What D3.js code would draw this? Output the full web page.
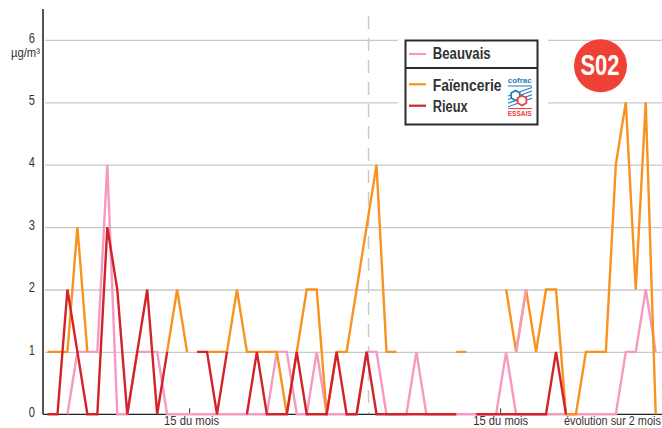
<!DOCTYPE html>
<html>
<head>
<meta charset="utf-8">
<script src="https://cdn.jsdelivr.net/npm/d3@7"></script>
<style>
html,body{margin:0;padding:0;background:#fff}
svg{display:block}
text{font-family:"Liberation Sans",sans-serif;fill:#333}
</style>
</head>
<body>
<div id="chart"></div>
<script>
const _ = null;
const yTickValues = [0, 1, 2, 3, 4, 5, 6];
const unitLabel = "µg/m³";
const xTickLabels = [{index: 14.2, label: "15 du mois", dx: 2.5}, {index: 45.4, label: "15 du mois", dx: 0.5}];
const footLabel = "évolution sur 2 mois";
const badgeLabel = "S02";

const beauvais = [_,_,0,1,1,1,4,0,0,1,1,1,0,0,0,0,0,0,0,0,0,0,0,1,1,0,0,1,0,0,0,0,1,1,0,0,0,1,0,0,0,0,0,0,0,0,1,0,0,0,0,0,0,0,0,0,0,0,1,1,2,1];
const faiencerie = [1,1,1,3,1,_,_,_,_,_,_,_,1,2,1,_,1,1,1,2,1,1,1,1,0,1,2,2,0,1,1,2,3,4,1,1,_,_,_,_,_,1,1,_,_,_,2,1,2,1,2,2,0,0,1,1,1,4,5,2,5,0];
const rieux = [0,0,2,1,0,0,3,2,0,1,2,0,1,_,_,1,1,0,1,_,0,1,0,0,0,1,0,0,0,1,0,0,1,0,0,0,0,0,0,0,0,0,_,0,0,0,0,0,0,0,0,1,0,_,_,_,_,_,_,_,_,_];
const beauvaisReprise = [_,_,_,_,_,_,_,_,_,_,_,_,_,_,_,_,_,_,_,_,_,_,_,_,_,_,_,_,_,_,_,_,_,_,_,_,_,_,_,_,_,_,_,_,_,_,_,1,2,_,_,_,_,_,_,_,_,_,_,_,_,_];

const colors = {beauvais: "#f59ac1", faiencerie: "#f8931f", rieux: "#d2232a"};
const W = 662, H = 428;
const svg = d3.select("#chart").append("svg").attr("width", W).attr("height", H);
// squeezes a text horizontally to the condensed width of the reference, keeping its anchor point in place
const narrow = (sel, w) => sel.each(function () {
  const t = d3.select(this), r = w / this.getComputedTextLength(), ax = +t.attr("x") || 0;
  t.attr("transform", `translate(${ax},0) scale(${r},1) translate(${-ax},0)`);
});

const x = d3.scaleLinear().domain([0, 61]).range([47.5, 655.7]);
const y = d3.scaleLinear().domain([0, 6]).range([414.3, 39.9]);

// grid
const grid = svg.append("g").attr("transform", "translate(45,0)")
  .call(d3.axisRight(y).tickValues(yTickValues.slice(1)).tickSize(617).tickFormat(""));
grid.select(".domain").remove();
grid.selectAll("line").attr("stroke", "#c9c9c9").attr("stroke-width", 1.3);

// dashed mid line
svg.append("line").attr("x1", x(32.2)).attr("x2", x(32.2)).attr("y1", 16).attr("y2", y(0))
  .attr("stroke", "#c9c9c9").attr("stroke-width", 1.5).attr("stroke-dasharray", "13 9");

// baseline with ticks
const xAxis = svg.append("g").attr("transform", `translate(0,${y(0)})`)
  .call(d3.axisTop(x).tickValues(xTickLabels.map(d => d.index)).tickSize(6).tickSizeOuter(0).tickFormat(""));
xAxis.select(".domain").remove();
xAxis.selectAll("line").attr("stroke", "#333").attr("stroke-width", 1);
svg.append("line").attr("x1", 43).attr("x2", 662).attr("y1", y(0)).attr("y2", y(0))
  .attr("stroke", "#222").attr("stroke-width", 1.3);

// y axis
const yAxis = svg.append("g").attr("transform", "translate(43,0)")
  .call(d3.axisLeft(y).tickValues(yTickValues).tickSize(0).tickPadding(8).tickFormat(d3.format("d")));
yAxis.select(".domain").remove();
yAxis.selectAll("text").attr("font-size", 14).style("font-family", '"Liberation Sans"').attr("dy", "0.15em").attr("fill", "#333")
  .call(narrow, 6.2);
svg.append("line").attr("x1", 43).attr("x2", 43).attr("y1", 9).attr("y2", y(0))
  .attr("stroke", "#555").attr("stroke-width", 2);
svg.append("text").attr("x", 11).attr("y", 57).attr("font-size", 13).text(unitLabel).call(narrow, 29);

// labels
xTickLabels.forEach(d => {
  svg.append("text").attr("x", x(d.index) + d.dx).attr("y", 425.5).attr("text-anchor", "middle")
    .attr("font-size", 12).text(d.label).call(narrow, 55);
});
svg.append("text").attr("x", 564).attr("y", 425.5).attr("font-size", 12).text(footLabel).call(narrow, 97);

// series
const line = d3.line().defined(d => d !== null).x((d, i) => x(i)).y(d => y(d));
[[beauvais, colors.beauvais], [faiencerie, colors.faiencerie], [beauvaisReprise, colors.beauvais], [rieux, colors.rieux]]
  .forEach(([data, c]) => {
    svg.append("path").datum(data).attr("d", line).attr("fill", "none")
      .attr("stroke", c).attr("stroke-width", 2.4).attr("stroke-linejoin", "miter");
  });

// legend
const leg = svg.append("g");
leg.append("rect").attr("x", 398).attr("y", 30).attr("width", 150).attr("height", 100).attr("fill", "#fff");
leg.append("rect").attr("x", 405.5).attr("y", 40.5).attr("width", 132).attr("height", 84)
  .attr("fill", "#fff").attr("stroke", "#2b2b2b").attr("stroke-width", 2);
leg.append("line").attr("x1", 405).attr("x2", 538).attr("y1", 68).attr("y2", 68).attr("stroke", "#2b2b2b").attr("stroke-width", 2);
[["Beauvais", colors.beauvais, 54, 59.3, 58], ["Faïencerie", colors.faiencerie, 84.3, 91, 69], ["Rieux", colors.rieux, 105.7, 112, 35]].forEach(([t, c, yy, by, w]) => {
  leg.append("line").attr("x1", 409).attr("x2", 426).attr("y1", yy).attr("y2", yy).attr("stroke", c).attr("stroke-width", 2.2);
  leg.append("text").attr("x", 432.7).attr("y", by).attr("font-size", 17).attr("font-weight", 700).attr("fill", "#2b2b2b").text(t).call(narrow, w);
});

// cofrac logo
const logo = svg.append("g");
logo.append("text").attr("x", 507.7).attr("y", 83.3).attr("font-size", 8)
  .attr("font-weight", 700).style("fill", "#1f7cc0").text("cofrac").call(narrow, 24);
logo.append("line").attr("x1", 508).attr("x2", 532).attr("y1", 86).attr("y2", 86).attr("stroke", "#1f7cc0").attr("stroke-width", 1);
logo.append("g").selectAll("line").data([0, 1, 2, 3]).join("line")
  .attr("x1", 508).attr("x2", 532)
  .attr("y1", d => 96 + d * 3.6).attr("y2", d => 87.5 + d * 3.6)
  .attr("stroke", "#1f7cc0").attr("stroke-width", 1.1);
const hex = (cx, cy, r) => d3.range(6).map(i => [cx + r * Math.sin(i * Math.PI / 3), cy + r * Math.cos(i * Math.PI / 3)].join(",")).join(" ");
logo.append("polygon").attr("points", hex(515.5, 95.5, 5)).attr("fill", "#fff").attr("stroke", "#1f7cc0").attr("stroke-width", 1.8);
logo.append("polygon").attr("points", hex(522, 100.5, 5)).attr("fill", "#fff").attr("stroke", "#ee3e3e").attr("stroke-width", 1.8);
logo.append("line").attr("x1", 508).attr("x2", 532).attr("y1", 108.5).attr("y2", 108.5).attr("stroke", "#ee3e3e").attr("stroke-width", 1);
logo.append("text").attr("x", 507.7).attr("y", 116).attr("font-size", 7)
  .attr("font-weight", 700).style("fill", "#ee3e3e").text("ESSAIS").call(narrow, 24);

// badge
svg.append("circle").attr("cx", 600.5).attr("cy", 65.7).attr("r", 26.5).attr("fill", "#ef4136");
svg.append("text").attr("x", 580.5).attr("y", 75).attr("font-size", 29)
  .attr("font-weight", 700).style("fill", "#fff").text(badgeLabel).call(narrow, 39);
</script>
</body>
</html>
